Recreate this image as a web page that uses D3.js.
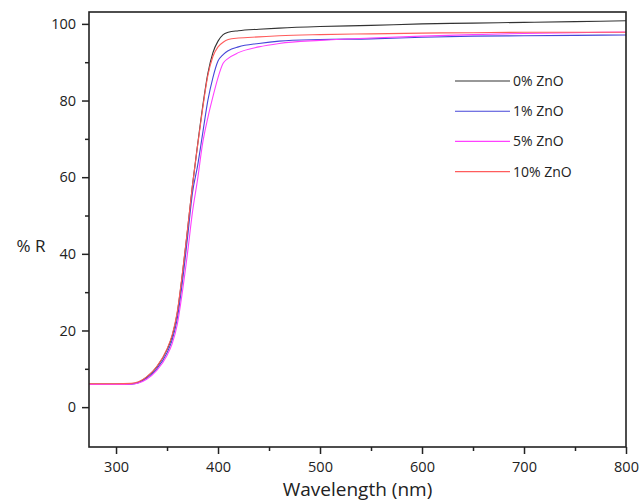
<!DOCTYPE html>
<html>
<head>
<meta charset="utf-8">
<script src="https://cdn.jsdelivr.net/npm/d3@7"></script>
<style>
  body { margin: 0; background: #fff; }
  text { font-family: "Open Sans", Lato, sans-serif; fill: #222; }
</style>
</head>
<body>
<div id="chart"></div>
<script>
const width = 640;
const height = 501;
const margin = {top: 12, right: 14, bottom: 54, left: 89};

// wavelength samples (nm)
const wavelength = [273, 300, 315, 322, 330, 340, 350, 355, 360, 365, 370, 375, 380, 385, 390, 395, 400, 405, 410, 420, 440, 460, 500, 550, 600, 650, 700, 750, 800];

// %R for each sample
const zno0  = [6.0, 6.0, 6.1, 6.5, 7.8, 10.5, 15.0, 18.5, 24.5, 34.5, 46.0, 58.0, 68.5, 78.5, 87.0, 92.5, 95.5, 97.2, 97.8, 98.2, 98.6, 98.9, 99.3, 99.6, 100.0, 100.2, 100.4, 100.6, 100.8];
const zno1  = [5.9, 5.9, 6.0, 6.4, 7.5, 10.0, 14.2, 17.5, 23.0, 32.5, 44.0, 56.0, 63.0, 71.5, 80.0, 86.0, 90.3, 92.0, 93.0, 94.0, 94.9, 95.5, 95.9, 96.1, 96.5, 96.8, 96.9, 97.0, 97.1];
const zno5  = [5.9, 5.9, 6.0, 6.3, 7.3, 9.6, 13.5, 16.5, 21.5, 30.0, 40.0, 51.0, 59.5, 69.0, 75.5, 81.0, 86.0, 89.7, 91.0, 92.5, 94.0, 94.9, 95.7, 96.3, 96.8, 97.2, 97.5, 97.7, 97.9];
const zno10 = [6.1, 6.1, 6.2, 6.6, 7.9, 10.6, 15.2, 18.8, 24.8, 34.8, 46.2, 58.0, 68.3, 78.0, 86.5, 91.5, 94.0, 95.2, 95.9, 96.3, 96.6, 96.9, 97.2, 97.4, 97.6, 97.7, 97.8, 97.8, 97.8];

const seriesNames = ['0% ZnO', '1% ZnO', '5% ZnO', '10% ZnO'];
const seriesColors = ['#333333', '#4646d8', '#ff40ff', '#ff5c5c'];

const xTicks = [300, 400, 500, 600, 700, 800];
const xMinor = [350, 450, 550, 650, 750];
const yTicks = [0, 20, 40, 60, 80, 100];
const yMinor = [10, 30, 50, 70, 90];

const series = [zno0, zno1, zno5, zno10].map((vals, i) => ({
    name: seriesNames[i],
    color: seriesColors[i],
    values: vals.map((v, j) => ({x: wavelength[j], y: v}))
}));

const x = d3.scaleLinear().domain([273.5, 800]).range([margin.left, width - margin.right]);
const y = d3.scaleLinear().domain([-10.4, 103.1]).range([height - margin.bottom, margin.top]);

const svg = d3.select('#chart')
    .append('svg')
    .attr('width', width)
    .attr('height', height);

const line = d3.line()
    .x(d => x(d.x))
    .y(d => y(d.y))
    .curve(d3.curveMonotoneX);

svg.append('defs').append('clipPath')
    .attr('id', 'plot')
    .append('rect')
    .attr('x', margin.left)
    .attr('y', margin.top)
    .attr('width', width - margin.left - margin.right)
    .attr('height', height - margin.top - margin.bottom);

svg.append('g')
    .attr('clip-path', 'url(#plot)')
    .selectAll('path.series')
    .data(series)
    .enter()
    .append('path')
    .attr('class', 'series')
    .attr('fill', 'none')
    .attr('stroke', d => d.color)
    .attr('stroke-width', 1.1)
    .attr('d', d => line(d.values));

// axes
const xAxis = svg.append('g')
    .attr('transform', `translate(0,${height - margin.bottom})`)
    .call(d3.axisBottom(x).tickValues(xTicks).tickSize(7).tickPadding(8));
svg.append('g')
    .attr('transform', `translate(0,${height - margin.bottom})`)
    .call(d3.axisBottom(x).tickValues(xMinor).tickSize(4).tickFormat(''));

const yAxis = svg.append('g')
    .attr('transform', `translate(${margin.left},0)`)
    .call(d3.axisLeft(y).tickValues(yTicks).tickSize(7).tickPadding(6));
svg.append('g')
    .attr('transform', `translate(${margin.left},0)`)
    .call(d3.axisLeft(y).tickValues(yMinor).tickSize(4).tickFormat(''));

svg.selectAll('.domain').remove();
svg.selectAll('.tick line').attr('stroke', '#222').attr('stroke-width', 1.5);
svg.selectAll('.tick text').attr('font-size', 14.5).attr('fill', '#222');

// frame
svg.append('rect')
    .attr('x', margin.left)
    .attr('y', margin.top)
    .attr('width', width - margin.left - margin.right)
    .attr('height', height - margin.top - margin.bottom)
    .attr('fill', 'none')
    .attr('stroke', '#222')
    .attr('stroke-width', 1.6);

// axis titles
svg.append('text')
    .attr('x', (margin.left + width - margin.right) / 2)
    .attr('y', 496)
    .attr('text-anchor', 'middle')
    .attr('font-size', 19)
    .text('Wavelength (nm)');

svg.append('text')
    .attr('x', 31)
    .attr('y', 252)
    .attr('text-anchor', 'middle')
    .attr('font-size', 17)
    .text('% R');

// legend
const legend = svg.append('g')
    .selectAll('g')
    .data(series)
    .enter()
    .append('g')
    .attr('transform', (d, i) => `translate(455,${81 + i * 30.2})`);

legend.append('line')
    .attr('x1', 0)
    .attr('x2', 55)
    .attr('stroke', d => d.color)
    .attr('stroke-width', 1.1);

legend.append('text')
    .attr('x', 58)
    .attr('y', 5)
    .attr('font-size', 14)
    .text(d => d.name);
</script>
</body>
</html>
